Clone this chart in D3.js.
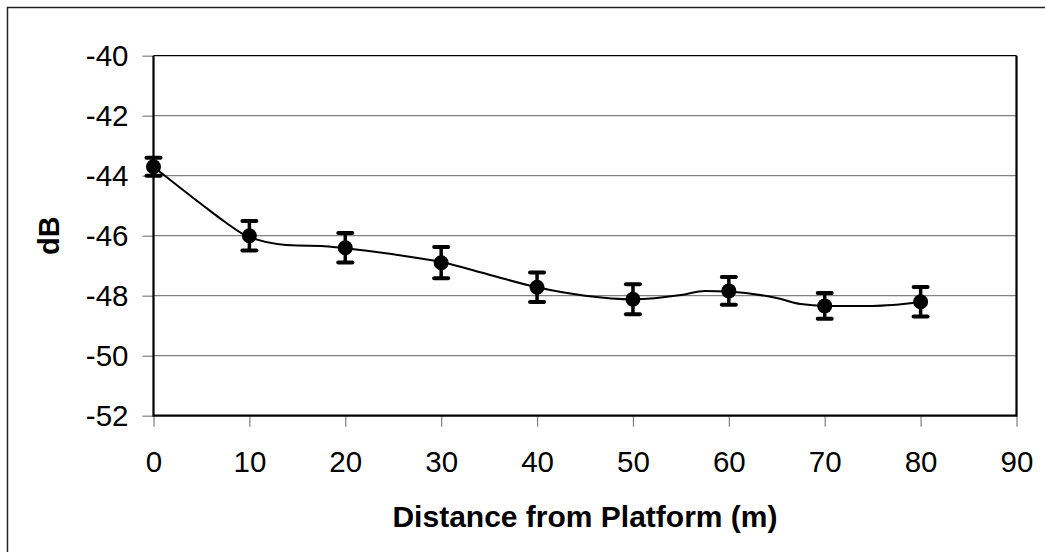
<!DOCTYPE html>
<html>
<head>
<meta charset="utf-8">
<script src="https://cdn.jsdelivr.net/npm/d3@7"></script>
<style>
  html, body { margin: 0; padding: 0; background: #fff; }
  svg { display: block; font-family: "Liberation Sans", Arial, sans-serif; }
</style>
</head>
<body>
<svg id="chart" width="1045" height="552"></svg>
<script>
// ---- data ----
const distances = [0, 10, 20, 30, 40, 50, 60, 70, 80];
const meanDb = [-43.7, -46.0, -46.4, -46.9, -47.72, -48.12, -47.84, -48.34, -48.2];
const errDb = [0.3, 0.49, 0.49, 0.52, 0.49, 0.5, 0.46, 0.43, 0.49];
const lineX = [0, 5, 7.5, 10, 15, 17.5, 20, 25, 30, 35, 40, 45, 50, 55, 57.5, 60, 65, 67.5, 70, 75, 80];
const lineY = [-43.7, -44.95, -45.55, -46.05, -46.33, -46.34, -46.42, -46.62, -46.88, -47.3, -47.72, -48.0, -48.12, -47.98, -47.84, -47.86, -48.08, -48.28, -48.34, -48.34, -48.22];
const xTicks = [0, 10, 20, 30, 40, 50, 60, 70, 80, 90];
const yTicks = [-52, -50, -48, -46, -44, -42, -40];
const xTitle = "Distance from Platform (m)";
const yTitle = "dB";

// ---- layout ----
const svg = d3.select("#chart");
const L = 153.5, R = 1016.5, T = 55.7, B = 415.7;
const x = d3.scaleLinear().domain([0, 90]).range([L, R]);
const y = d3.scaleLinear().domain([-52, -40]).range([B, T]);
const fmt = d => String(d); // plain hyphen-minus, as in the reference

// outer frame
svg.append("rect").attr("x", 7.5).attr("y", 7.5).attr("width", 1045).attr("height", 552)
  .attr("fill", "none").attr("stroke", "#222").attr("stroke-width", 1.5);

// gridlines
svg.append("g").selectAll("line").data(yTicks.filter(d => d > -52)).join("line")
  .attr("x1", L).attr("x2", R).attr("y1", d => y(d)).attr("y2", d => y(d))
  .attr("stroke", d => d === -40 ? "#000" : "#808080").attr("stroke-width", 1.2);

// y axis
const yAxis = svg.append("g").attr("transform", `translate(${L},0)`)
  .call(d3.axisLeft(y).tickValues(yTicks).tickSize(11).tickPadding(14).tickFormat(fmt));
yAxis.select(".domain").remove();
yAxis.selectAll(".tick line").attr("stroke", "#808080").attr("stroke-width", 1.2);
yAxis.selectAll(".tick text").attr("font-size", 29.5).attr("fill", "#000")
  .attr("font-family", "'Liberation Sans', Arial, sans-serif");

// x axis
const xAxis = svg.append("g").attr("transform", `translate(0,${B})`)
  .call(d3.axisBottom(x).tickValues(xTicks).tickSize(11).tickPadding(24).tickFormat(fmt));
xAxis.select(".domain").remove();
xAxis.selectAll(".tick line").attr("stroke", "#808080").attr("stroke-width", 1.2);
xAxis.selectAll(".tick text").attr("font-size", 29.5).attr("fill", "#000")
  .attr("font-family", "'Liberation Sans', Arial, sans-serif");

// plot frame: left, bottom, right
svg.append("path")
  .attr("d", `M${L},${T} L${L},${B} L${R},${B} L${R},${T}`)
  .attr("fill", "none").attr("stroke", "#000").attr("stroke-width", 2.2);

// line
const lineGen = d3.line().x(d => x(d[0])).y(d => y(d[1])).curve(d3.curveMonotoneX);
svg.append("path").datum(lineX.map((v, i) => [v, lineY[i]]))
  .attr("d", lineGen).attr("fill", "none").attr("stroke", "#000").attr("stroke-width", 2);

// error bars
const eb = svg.append("g").selectAll("g").data(distances.map((d, i) => ({ d, m: meanDb[i], e: errDb[i] }))).join("g");
eb.append("line").attr("x1", p => x(p.d)).attr("x2", p => x(p.d))
  .attr("y1", p => y(p.m + p.e)).attr("y2", p => y(p.m - p.e))
  .attr("stroke", "#000").attr("stroke-width", 3.5);
eb.append("line").attr("x1", p => x(p.d) - 7).attr("x2", p => x(p.d) + 7)
  .attr("y1", p => y(p.m + p.e)).attr("y2", p => y(p.m + p.e))
  .attr("stroke", "#000").attr("stroke-width", 4).attr("stroke-linecap", "round");
eb.append("line").attr("x1", p => x(p.d) - 7).attr("x2", p => x(p.d) + 7)
  .attr("y1", p => y(p.m - p.e)).attr("y2", p => y(p.m - p.e))
  .attr("stroke", "#000").attr("stroke-width", 4).attr("stroke-linecap", "round");

// markers
svg.append("g").selectAll("circle").data(distances).join("circle")
  .attr("cx", d => x(d)).attr("cy", (d, i) => y(meanDb[i])).attr("r", 7.5).attr("fill", "#000");

// titles
svg.append("text").attr("x", (L + R) / 2).attr("y", 527).attr("text-anchor", "middle")
  .attr("font-size", 30).attr("font-weight", "bold").text(xTitle);
svg.append("text").attr("transform", `translate(59,${(T + B) / 2}) rotate(-90)`)
  .attr("text-anchor", "middle").attr("font-size", 29).attr("font-weight", "bold").text(yTitle);
</script>
</body>
</html>
